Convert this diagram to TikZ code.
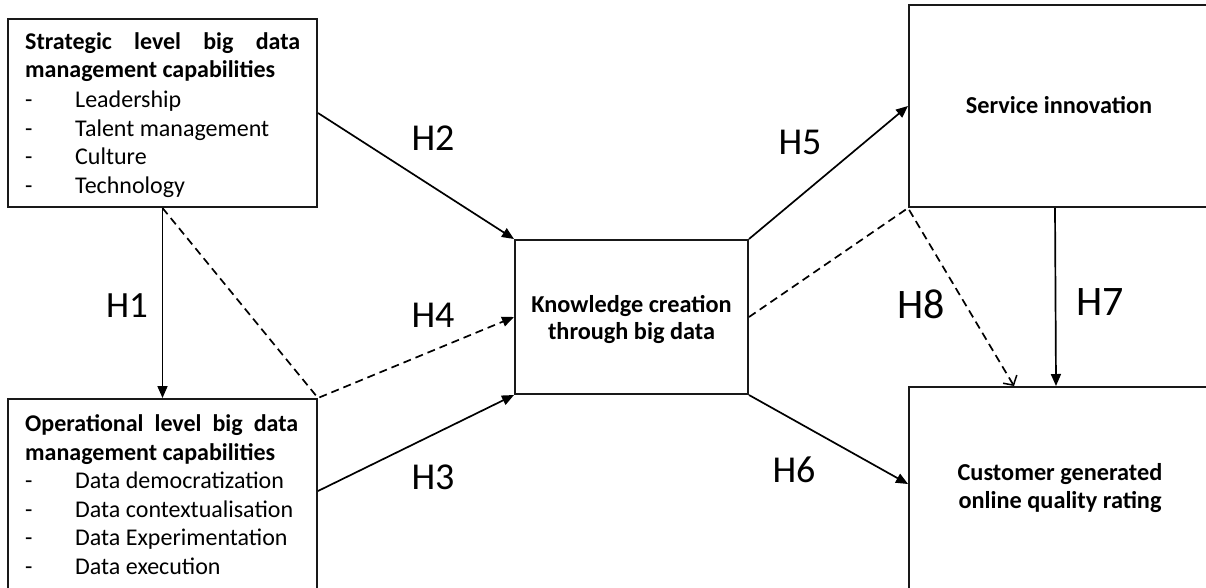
\documentclass[tikz,border=0pt]{standalone}
\usepackage{fontspec}
\setmainfont{Carlito}
\usetikzlibrary{arrows.meta,calc}
\begin{document}
\begin{tikzpicture}[x=1pt,y=-1pt,
  box/.style={draw=black!90,line width=2pt,rectangle,inner sep=0pt},
  txt/.style={anchor=base west,inner sep=0pt,font=\fontsize{24}{28}\selectfont},
  btxt/.style={anchor=base west,inner sep=0pt,font=\fontsize{24}{28}\selectfont\bfseries},
  ctxt/.style={anchor=base,inner sep=0pt,font=\fontsize{24.3}{28}\selectfont\bfseries},
  hlab/.style={anchor=base,inner sep=0pt,font=\fontsize{38}{40}\selectfont},
  conn/.style={draw=black,line width=1.7pt,-{Triangle[length=12pt,width=10pt]}},
  dconn/.style={conn,dash pattern=on 8pt off 5pt},
  oconn/.style={draw=black,line width=1.7pt,dash pattern=on 8pt off 5pt,-{Straight Barb[length=7pt,width=16pt,line width=1.5pt]}}
]
\useasboundingbox (0,0) rectangle (1206,587);
\clip (0,0) rectangle (1206,587);
\fill[white] (0,0) rectangle (1206,587);

% boxes
\node[box,minimum width=309pt,minimum height=188pt] (A) at (162.5,113) {};
\node[box,minimum width=309pt,minimum height=201pt] (B) at (162.5,499.5) {};
\node[box,minimum width=233pt,minimum height=154pt] (C) at (631.5,317) {};
\node[box,minimum width=311pt,minimum height=202pt] (D) at (1064.5,106) {};
\node[box,minimum width=311pt,minimum height=213pt] (E) at (1064.5,493.5) {};

% box A text
\node[btxt] (a1) at (25,49) {\makebox[275pt][l]{Strategic\hfill level\hfill big\hfill data}};
\node[btxt] (a2) at (25,77) {management capabilities};
\node[txt] (a3d) at (25,107) {-};
\node[txt] (a3) at (75,107) {Leadership};
\node[txt] (a4d) at (25,136) {-};
\node[txt] (a4) at (75,136) {Talent management};
\node[txt] (a5d) at (25,164) {-};
\node[txt] (a5) at (75,164) {Culture};
\node[txt] (a6d) at (25,193) {-};
\node[txt] (a6) at (75,193) {Technology};

% box B text
\node[btxt] (b1) at (25,431) {\makebox[273pt][l]{Operational\hfill level\hfill big\hfill data}};
\node[btxt] (b2) at (25,460) {management capabilities};
\node[txt] (b3d) at (25,488) {-};
\node[txt] (b3) at (75,488) {Data democratization};
\node[txt] (b4d) at (25,517) {-};
\node[txt] (b4) at (75,517) {Data contextualisation};
\node[txt] (b5d) at (25,545) {-};
\node[txt] (b5) at (75,545) {Data Experimentation};
\node[txt] (b6d) at (25,574) {-};
\node[txt] (b6) at (75,574) {Data execution};

% other box texts
\node[ctxt] (c1) at (631.5,312) {Knowledge creation};
\node[ctxt] (c2) at (631.5,339) {through big data};
\node[ctxt] (d1) at (1059,113) {Service innovation};
\node[ctxt] (e1) at (1060,480) {Customer generated};
\node[ctxt] (e2) at (1060,508) {online quality rating};

% connectors
\draw[conn] (A.south) -- (B.north);
\draw[conn] (A.east) -- (C.north west);
\draw[conn] ($(B.north east)+(0,93)$) -- (C.south west);
\draw[dconn] (A.south) -- (B.north east) -- (C.west);
\draw[conn] (C.north east) -- (D.west);
\draw[conn] (C.south east) -- ($(E.north west)+(0,98)$);
\draw[conn] ($(D.south west)+(147,0)$) -- ($(E.north west)+(148,0)$);
\draw[oconn] (C.east) -- (D.south west) -- ($(E.north west)+(106,0)$);

% labels
\node[hlab,font=\fontsize{37}{40}\selectfont] (h1) at (127,317) {H1};
\node[hlab] (h2) at (433,150) {H2};
\node[hlab] (h3) at (433,489) {H3};
\node[hlab] (h4) at (433,327) {H4};
\node[hlab] (h5) at (800,154) {H5};
\node[hlab] (h6) at (794,482) {H6};
\node[hlab,font=\fontsize{42}{44}\selectfont] (h7) at (1100,315) {H7};
\node[hlab,font=\fontsize{42}{44}\selectfont] (h8) at (921,318) {H8};
\end{tikzpicture}
\end{document}
